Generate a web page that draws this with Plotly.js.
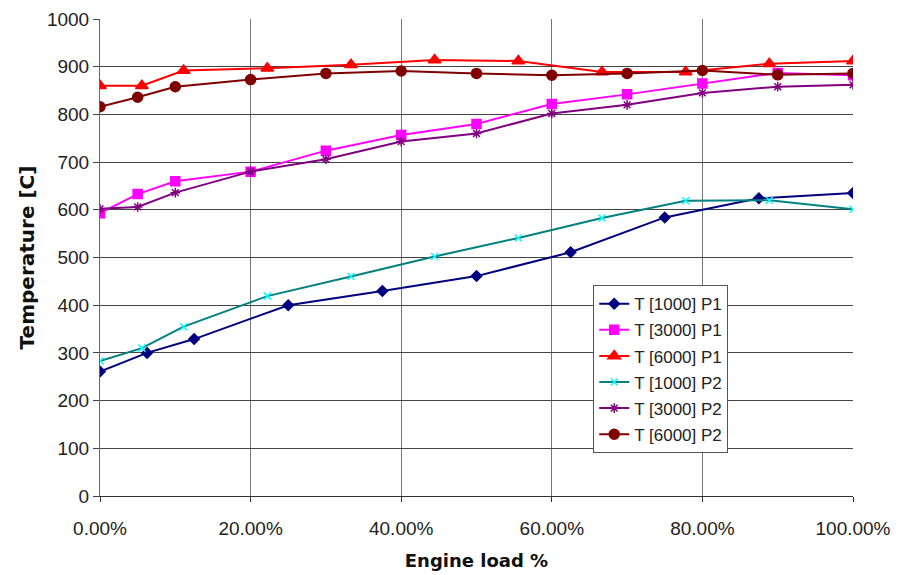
<!DOCTYPE html>
<html>
<head>
<meta charset="utf-8">
<script src="https://cdn.plot.ly/plotly-3.0.1.min.js"></script>
<style>html,body{margin:0;padding:0;background:#fff;}#chart{width:903px;height:575px;}</style>
</head>
<body>
<div id="chart"></div>
<script>
// Engine load positions (fraction) for each sampling scheme
var loadNinths = [0, 0.0556, 0.1111, 0.2222, 0.3333, 0.4444, 0.5556, 0.6667, 0.7778, 0.8889, 1.0];
var loadTenths = [0, 0.05, 0.10, 0.20, 0.30, 0.40, 0.50, 0.60, 0.70, 0.80, 0.90, 1.0];
var loadEighths = [0, 0.0625, 0.125, 0.25, 0.375, 0.5, 0.625, 0.75, 0.875, 1.0];

// Temperatures [C]
var t1000P1 = [261, 300, 329, 400, 430, 461, 511, 584, 624, 635];
var t3000P1 = [593, 633, 660, 680, 724, 757, 780, 822, 842, 865, 887, 882];
var t6000P1 = [860, 860, 892, 897, 904, 914, 912, 889, 889, 906, 912];
var t1000P2 = [283, 310, 355, 419, 460, 502, 541, 583, 619, 620, 601];
var t3000P2 = [602, 606, 636, 680, 706, 743, 760, 802, 820, 845, 858, 862];
var t6000P2 = [816, 836, 858, 873, 886, 891, 886, 882, 886, 892, 883, 886];

var seriesNames = ["T [1000] P1", "T [3000] P1", "T [6000] P1", "T [1000] P2", "T [3000] P2", "T [6000] P2"];

function tr(name, x, y, lineColor, sym, mColor, mSize, group) {
  return {
    type: "scatter", mode: "lines+markers", name: name, x: x, y: y,
    legendgroup: group,
    line: {color: lineColor, width: 2},
    marker: {symbol: sym, color: mColor, size: mSize, line: {color: mColor, width: 1.5}}
  };
}

var data = [
  tr(seriesNames[0], loadEighths, t1000P1, "#000080", "diamond", "#000080", 8, "a"),
  tr(seriesNames[1], loadTenths, t3000P1, "#FF00FF", "square", "#FF00FF", 9, "b"),
  tr(seriesNames[2], loadNinths, t6000P1, "#FF0000", "triangle-up", "#FF0000", 11, "c"),
  tr(seriesNames[3], loadNinths, t1000P2, "#008080", "x-thin-open", "#00FFFF", 7, "d"),
  tr(seriesNames[4], loadTenths, t3000P2, "#800080", "asterisk-open", "#800080", 8, "e"),
  tr(seriesNames[5], loadTenths, t6000P2, "#800000", "circle", "#800000", 10, "f")
];

var tickFont = {family: "Liberation Sans, Arial, sans-serif", size: 19, color: "#222"};
var titleFontX = {family: "DejaVu Sans, sans-serif", size: 18, color: "#111", weight: "bold"};
var titleFontY = {family: "DejaVu Sans, sans-serif", size: 20, color: "#111", weight: "bold"};
var layout = {
  width: 903, height: 575,
  margin: {l: 100, r: 50, t: 19, b: 79},
  paper_bgcolor: "#fff", plot_bgcolor: "#fff",
  showlegend: true,
  legend: {
    x: 0.655, y: 0.442, xanchor: "left", yanchor: "top",
    bgcolor: "#fff", bordercolor: "#555", borderwidth: 1,
    font: {family: "Liberation Sans, Arial, sans-serif", size: 17, color: "#222"},
    traceorder: "grouped", tracegroupgap: 1, itemwidth: 30
  },
  xaxis: {
    range: [0, 1], dtick: 0.2, tick0: 0, tickformat: ".2%",
    showgrid: true, gridcolor: "#777", gridwidth: 1,
    showline: true, linecolor: "#333", linewidth: 1,
    ticks: "outside", ticklen: 5, tickcolor: "#333",
    ticklabelstandoff: 10,
    tickfont: tickFont, zeroline: false,
    title: {text: "Engine load %", font: titleFontX, standoff: 16}
  },
  yaxis: {
    range: [0, 1000], dtick: 100, tick0: 0,
    showgrid: true, gridcolor: "#444", gridwidth: 1,
    showline: true, linecolor: "#666", linewidth: 1,
    ticks: "outside", ticklen: 6, tickcolor: "#444",
    tickfont: tickFont, zeroline: false,
    title: {text: "Temperature [C]", font: titleFontY, standoff: 6}
  }
};

Plotly.newPlot("chart", data, layout, {displayModeBar: false, staticPlot: true});
</script>
</body>
</html>
